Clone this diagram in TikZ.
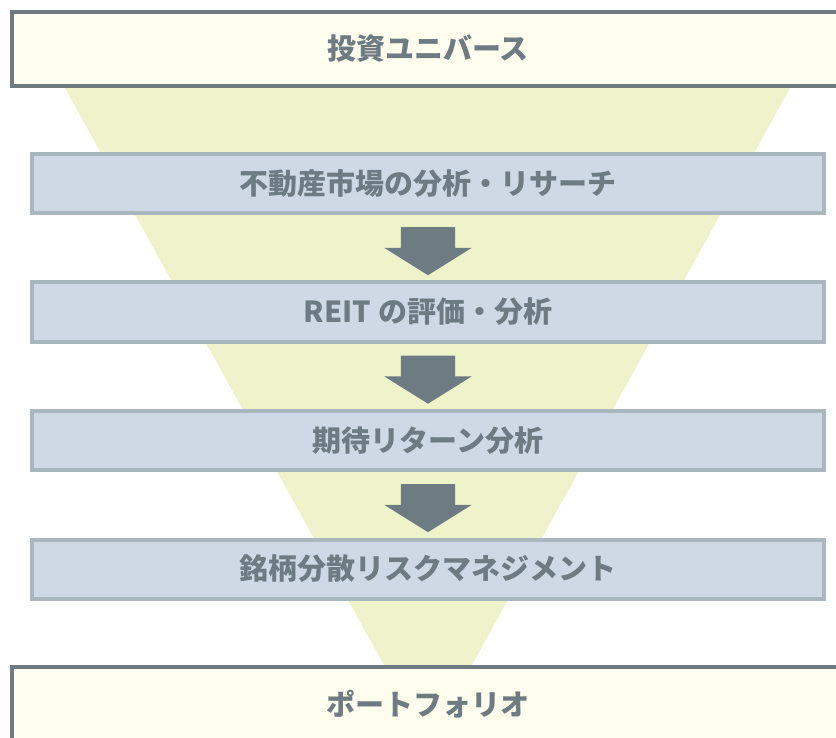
\documentclass[tikz,border=0pt]{standalone}
\usepackage{fontspec}
\setmainfont{Noto Sans CJK JP}
\usetikzlibrary{positioning, shapes.arrows, calc}

\definecolor{slate}{HTML}{6E7B83}
\definecolor{cream}{HTML}{FFFDEE}
\definecolor{funnelgreen}{HTML}{EEF3CB}
\definecolor{stepblue}{HTML}{CFD9E6}
\definecolor{stepline}{HTML}{ABB7BF}

\begin{document}
\begin{tikzpicture}[x=1pt, y=1pt, node distance=128.5pt, on grid,
	font=\fontsize{29}{34}\selectfont\bfseries, text=slate,
	endbox/.style={draw=slate, line width=4pt, fill=cream, minimum width=832pt, minimum height=74pt, inner sep=0pt},
	stagebox/.style={draw=stepline, line width=4pt, fill=stepblue, minimum width=792pt, minimum height=59pt, inner sep=0pt},
	downarrow/.style={single arrow, fill=slate, draw=none, rotate=-90, anchor=tail, minimum height=48pt,
		single arrow head extend=16.5pt, single arrow tip angle=116, inner xsep=0pt, inner ysep=27pt}]
	\useasboundingbox (0,0) rectangle (836,-738);

	% Funnel behind the steps
	\fill[funnelgreen] (65,-88) -- (790,-88) -- (472,-665) -- (384,-665) -- cycle;

	\node[endbox] (universe) at (428,-49) {投資ユニバース};
	\node[stagebox, below=134.5pt of universe] (market) {不動産市場の分析・リサーチ};
	\node[stagebox, below=of market] (reit) {REIT の評価・分析};
	\node[stagebox, below=of reit] (ret) {期待リターン分析};
	\node[stagebox, below=of ret] (risk) {銘柄分散リスクマネジメント};
	\node[endbox, below=135pt of risk] (portfolio) {ポートフォリオ};

	% Block arrows between the steps
	\foreach \u/\v in {market/reit, reit/ret, ret/risk}
		\node[downarrow] (arr-\u) at ($(\u.south)+(0,-12)$) {};
\end{tikzpicture}
\end{document}
